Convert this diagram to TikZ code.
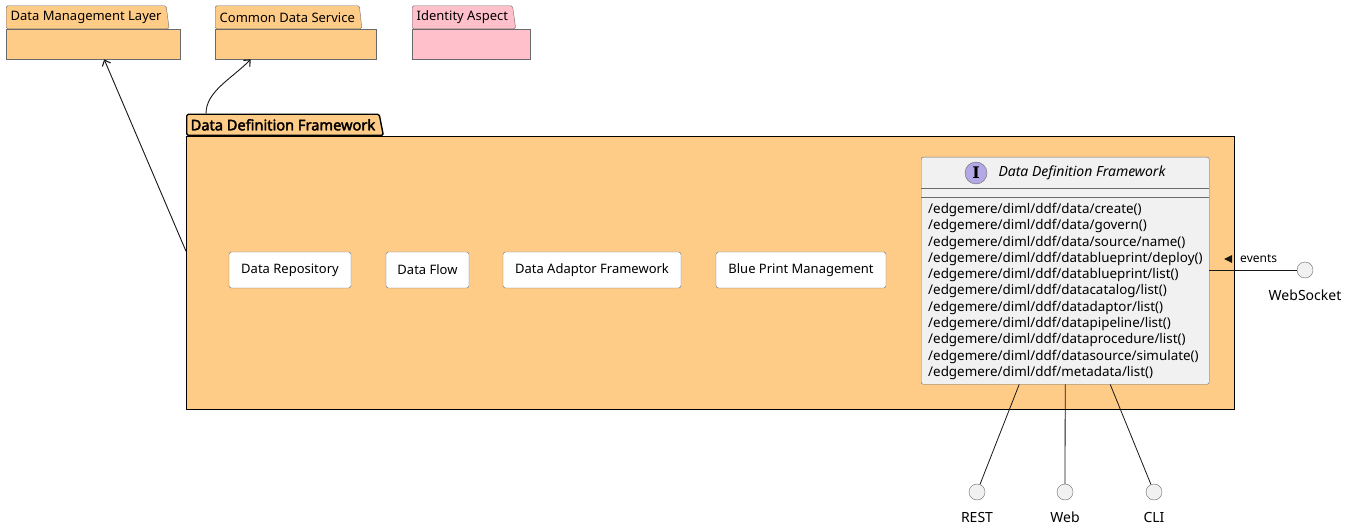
\documentclass[tikz,border=0pt]{standalone}
\usepackage{fontspec}
\setmainfont{Noto Sans}
\newfontfamily\iconfont{DejaVu Serif}
\newfontfamily\tabfont{Noto Sans}[BoldFont={Noto Sans},BoldFeatures={FakeBold=2.5}]
\usetikzlibrary{arrows.meta,shapes.geometric}

\definecolor{pkgfill}{HTML}{FFCC88}
\definecolor{pinkfill}{HTML}{FFC0CB}
\definecolor{boxfill}{HTML}{F1F1F1}
\definecolor{spotfill}{HTML}{B4A7E5}
\definecolor{edge}{HTML}{181818}
\definecolor{rim}{HTML}{6A6A6A}

\tikzset{
  pkgbody/.style={draw=rim,fill=pkgfill,anchor=north west,inner sep=0pt},
  pkgtab/.style={trapezium,trapezium left angle=90,trapezium right angle=76,
    trapezium stretches=true,draw=rim,fill=pkgfill,anchor=bottom left corner,
    minimum height=23pt,inner xsep=4.5pt,inner ysep=0pt,rounded corners=1.5pt,
    font=\fontsize{13}{15}\selectfont},
  comp/.style={draw=rim,fill=white,rounded corners=2.5pt,minimum height=36pt,
    inner xsep=0pt,font=\fontsize{13}{15}\selectfont},
  ifacebox/.style={draw=rim,fill=boxfill,rounded corners=2pt,anchor=north west,
    minimum width=288pt,minimum height=227pt,inner sep=0pt},
  lolli/.style={circle,draw=rim,fill=boxfill,minimum size=16pt,inner sep=0pt},
  lollitext/.style={font=\fontsize{14}{16}\selectfont},
  link/.style={draw=edge,line width=0.8pt},
  depend/.style={draw=edge,line width=0.9pt,-{Straight Barb[length=5pt,width=9pt,line width=1.1pt]}}
}

\begin{document}
\begin{tikzpicture}[x=1pt,y=-1pt]
  \useasboundingbox[fill=white] (0,0) rectangle (1346,529);

  % packages on top
  \node[pkgbody,minimum width=174pt,minimum height=30pt] (dml) at (6,29) {};
  \node[pkgtab] (dmltab) at (6,29) {Data Management Layer};
  \node[pkgbody,minimum width=161pt,minimum height=30pt] (cds) at (215,29) {};
  \node[pkgtab] (cdstab) at (215,29) {Common Data Service};
  \node[pkgbody,fill=pinkfill,minimum width=118pt,minimum height=30pt] (ida) at (412,29) {};
  \node[pkgtab,fill=pinkfill] (idatab) at (412,29) {Identity Aspect};

  % the framework package
  \node[pkgbody,draw=black,line width=1.4pt,minimum width=1048pt,minimum height=273pt] (ddf) at (186,136) {};
  \node[pkgtab,draw=black,line width=1.4pt,trapezium right angle=70,minimum height=21pt,inner xsep=4pt,
    font=\tabfont\fontsize{14.6}{16}\selectfont\bfseries] (ddftab) at (186,136) {Data Definition Framework};

  \node[comp,minimum width=122pt] (repo) at (290,270) {Data Repository};
  \node[comp,minimum width=83pt] (flow) at (427.5,270) {Data Flow};
  \node[comp,minimum width=178pt] (adaptor) at (592,270) {Data Adaptor Framework};
  \node[comp,minimum width=170pt] (blueprint) at (801,270) {Blue Print Management};

  % interface
  \node[ifacebox] (ddfi) at (921,157) {};
  \draw[rim] (921,188) -- (1209,188);
  \draw[rim] (921,197) -- (1209,197);
  \node[circle,draw=rim,fill=spotfill,minimum size=22pt,inner sep=0pt,
    font=\iconfont\bfseries\fontsize{16}{16}\selectfont] (spot) at (976,173) {I};
  \node[font=\fontsize{14}{15}\selectfont\itshape] (ddfititle) at (1082,173) {Data Definition Framework};
  \node[anchor=north west,inner sep=0pt,align=left,font=\fontsize{13.4}{16.3}\selectfont] (calls) at (928,203)
    {/edgemere/diml/ddf/data/create()\\
     /edgemere/diml/ddf/data/govern()\\
     /edgemere/diml/ddf/data/source/name()\\
     /edgemere/diml/ddf/datablueprint/deploy()\\
     /edgemere/diml/ddf/datablueprint/list()\\
     /edgemere/diml/ddf/datacatalog/list()\\
     /edgemere/diml/ddf/datadaptor/list()\\
     /edgemere/diml/ddf/datapipeline/list()\\
     /edgemere/diml/ddf/dataprocedure/list()\\
     /edgemere/diml/ddf/datasource/simulate()\\
     /edgemere/diml/ddf/metadata/list()};

  % access points
  \node[lolli] (ws) at (1305,270) {};
  \node[lollitext] (wstext) at (1305,295) {WebSocket};
  \node[lolli] (rest) at (977,492) {};
  \node[lollitext] (resttext) at (977,517) {REST};
  \node[lolli] (web) at (1065,492) {};
  \node[lollitext] (webtext) at (1065,517) {Web};
  \node[lolli] (cli) at (1154,492) {};
  \node[lollitext] (clitext) at (1154,517) {CLI};

  \draw[link] (ws) -- (ws -| ddfi.east);
  \node[font=\fontsize{12}{14}\selectfont,inner sep=0pt,anchor=west] (events) at (1240,259) {events};
  \fill[edge] ([xshift=-16pt]events.west) -- ++(8,-4) -- ++(0,8) -- cycle;

  \draw[link] ([xshift=-46pt]ddfi.south) -- (rest);
  \draw[link] (ddfi.south) -- (web);
  \draw[link] ([xshift=45pt]ddfi.south) -- (cli);

  % dependencies
  \draw[depend] ([yshift=22pt]ddf.west) -- ([xshift=11pt]dml.south);
  \draw[depend] ([xshift=20pt]ddftab.top left corner) .. controls +(0,-22) and +(-20,20) .. ([xshift=-45pt]cds.south);
\end{tikzpicture}
\end{document}
